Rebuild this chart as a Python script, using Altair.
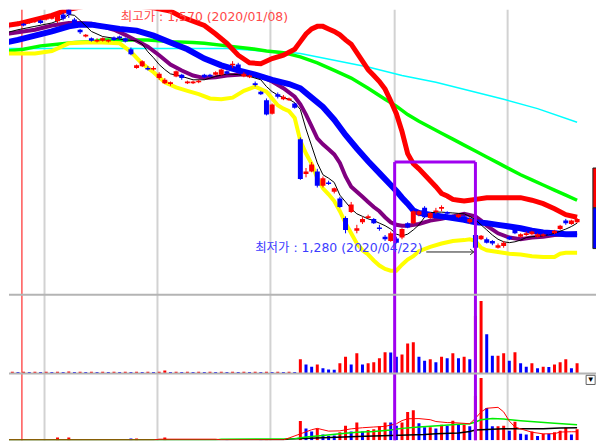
import altair as alt
import numpy as np
import pandas as pd

# ---------------- data (trading-day index: 0 = 2020/01/08) ----------------
DAYS = list(range(-12, 91))
OPEN = [1544, 1546, 1547, 1548, 1549, 1550, 1552, 1553, 1554, 1555, 1552, 1560,
        1569, 1554, 1542, 1534, 1532, 1528, 1529, 1528, 1533, 1534, 1532, 1519,
        1497, 1499, 1497, 1495, 1485, 1479, 1478, 1487, 1489, 1479, 1479, 1480,
        1489, 1489, 1489, 1489, 1493, 1500, 1501, 1487, 1486, 1479, 1469, 1459,
        1443, 1466, 1460, 1459, 1455, 1413, 1372, 1375, 1375, 1358, 1362, 1351,
        1343, 1320, 1327, 1305, 1315, 1320, 1319, 1309, 1298, 1293, 1296, 1297,
        1314, 1314, 1324, 1332, 1320, 1327, 1331, 1327, 1322, 1321, 1322, 1315,
        1300, 1295, 1295, 1293, 1285, 1287, 1298, 1308, 1298, 1300, 1301, 1298,
        1299, 1304, 1302, 1307, 1317, 1313, 1315]
CLOSE = [1547, 1543, 1549, 1550, 1547, 1553, 1554, 1550, 1556, 1559, 1561, 1555,
         1560, 1547, 1539, 1536, 1529, 1530, 1532, 1530, 1530, 1532, 1528, 1513,
         1500, 1505, 1495, 1497, 1490, 1483, 1480, 1493, 1485, 1481, 1481, 1482,
         1486, 1487, 1492, 1495, 1490, 1502, 1497, 1490, 1488, 1477, 1466, 1442,
         1454, 1463, 1463, 1461, 1450, 1366, 1375, 1383, 1358, 1367, 1360, 1355,
         1333, 1306, 1336, 1308, 1319, 1322, 1314, 1307, 1295, 1302, 1291, 1307,
         1309, 1328, 1328, 1321, 1326, 1329, 1333, 1325, 1319, 1324, 1319, 1319,
         1285, 1299, 1291, 1290, 1288, 1291, 1295, 1302, 1301, 1302, 1304, 1301,
         1301, 1301, 1305, 1311, 1314, 1317, 1319]
HIGH = [1548, 1547, 1550, 1552, 1550, 1554, 1555, 1554, 1557, 1560, 1562, 1562,
        1570, 1556, 1543, 1537, 1533, 1532, 1533, 1531, 1534, 1535, 1533, 1521,
        1501, 1506, 1499, 1499, 1492, 1485, 1481, 1494, 1490, 1482, 1482, 1483,
        1490, 1490, 1493, 1496, 1494, 1505, 1503, 1492, 1489, 1481, 1470, 1461,
        1455, 1468, 1465, 1462, 1456, 1415, 1379, 1386, 1378, 1369, 1364, 1356,
        1345, 1322, 1339, 1312, 1321, 1324, 1320, 1312, 1300, 1304, 1298, 1308,
        1315, 1329, 1329, 1334, 1327, 1332, 1335, 1328, 1324, 1325, 1324, 1321,
        1301, 1300, 1297, 1294, 1290, 1293, 1299, 1310, 1302, 1304, 1305, 1302,
        1302, 1305, 1306, 1312, 1319, 1318, 1320]
LOW = [1543, 1542, 1546, 1547, 1546, 1549, 1550, 1549, 1553, 1554, 1550, 1553,
       1556, 1546, 1537, 1533, 1528, 1527, 1528, 1527, 1529, 1530, 1527, 1512,
       1496, 1498, 1494, 1494, 1483, 1478, 1476, 1486, 1483, 1478, 1478, 1479,
       1485, 1486, 1488, 1488, 1489, 1497, 1495, 1486, 1485, 1475, 1465, 1441,
       1442, 1461, 1459, 1458, 1449, 1365, 1368, 1374, 1356, 1356, 1359, 1349,
       1332, 1302, 1326, 1302, 1313, 1319, 1313, 1305, 1293, 1292, 1290, 1295,
       1308, 1313, 1322, 1320, 1319, 1325, 1328, 1324, 1318, 1320, 1318, 1313,
       1280, 1294, 1290, 1288, 1284, 1285, 1294, 1301, 1297, 1299, 1300, 1297,
       1298, 1300, 1301, 1306, 1312, 1312, 1314]

# volume (middle pane) and second volume pane (bottom)
VOL = [17, 14, 18, 15, 17, 14, 17, 15, 18, 14, 17, 15,
       19, 14, 17, 15, 18, 14, 17, 15, 17, 14, 18, 15,
       17, 14, 17, 15, 17, 30, 14, 17, 15, 18, 14, 17,
       15, 17, 14, 18, 15, 17, 14, 17, 15, 18, 14, 17,
       15, 17, 14, 18, 15,
       143, 90, 67, 90, 53, 40, 38, 103, 167, 90,
       203, 90, 103, 113, 153, 213, 210, 167, 190, 300,
       313, 167, 127, 143, 113, 167, 153, 203, 153, 167,
       143, 580, 727, 393, 177, 178, 203, 127, 213, 103,
       67, 103, 53, 67, 65, 90, 113, 143, 53, 103]
VOL2 = [0, 0, 0, 0, 0, 0, 0, 0, 0, 0, 30, 0,
        30, 0, 0, 0, 0, 0, 0, 0, 0, 0, 0, 20,
        20, 0, 0, 0, 0, 30, 0, 0, 0, 0, 0, 0,
        0, 0, 0, 0, 15, 0, 0, 0, 0, 0, 15, 15,
        0, 0, 0, 0, 0,
        210, 130, 97, 130, 63, 47, 53, 87, 160, 97,
        193, 97, 113, 120, 153, 193, 193, 160, 193, 310,
        327, 187, 143, 143, 130, 170, 160, 213, 170, 170,
        153, 487, 680, 353, 153, 153, 160, 103, 203, 70,
        63, 97, 47, 70, 70, 87, 103, 137, 63, 120]

# price overlays
BB_UP_DAYS = [-12, -9, -6, -3, 0, 3, 6, 9, 12, 15, 18, 20, 22, 24, 26, 28, 30, 32, 34, 36, 38, 40,
              41, 42, 43, 44, 45, 46, 47, 48, 49, 50, 51, 52, 53, 54, 55, 56, 57, 58, 59, 60,
              61, 62, 63, 64, 65, 66, 67, 68, 69, 70, 71, 72, 74, 76, 78, 80, 82, 84, 86, 88, 90]
BB_UP = [1546, 1549, 1554, 1559, 1566, 1570, 1572, 1573, 1570, 1568, 1564, 1557, 1552, 1547, 1537,
         1526, 1512, 1503, 1502, 1508, 1512, 1519,
         1528, 1537, 1543, 1546, 1546, 1543, 1540, 1536, 1530, 1525, 1515, 1505, 1495, 1488, 1481,
         1472, 1458, 1443, 1422, 1396, 1384, 1378, 1371, 1364, 1357, 1349, 1346, 1342, 1341, 1340,
         1341, 1342, 1344, 1344, 1344, 1344, 1341, 1337, 1331, 1324, 1321]
BB_LO_DAYS = [-12, -6, -3, 0, 3, 6, 9, 11, 13, 15, 17, 19, 21, 23, 25, 27, 29, 31, 33, 35, 37, 38,
              39, 40, 41, 42, 43, 44, 45, 46, 47, 48, 49, 50, 51, 52, 53, 54, 55, 56, 57, 58, 59,
              60, 61, 62, 64, 66, 68, 70, 71, 72, 73, 74, 76, 78, 80, 82, 84, 86, 87, 88, 90]
BB_LO = [1514, 1514, 1517, 1526, 1527, 1527, 1526, 1516, 1502, 1492, 1480, 1474, 1470, 1466, 1461,
         1460, 1462, 1470, 1475, 1469, 1453, 1449, 1446, 1438,
         1411, 1396, 1384, 1367, 1355, 1348, 1340, 1328, 1314, 1302, 1290, 1282, 1277, 1270, 1264,
         1260, 1258, 1258, 1265, 1271, 1275, 1281, 1286, 1290, 1293, 1294, 1295, 1293, 1285, 1282,
         1280, 1278, 1277, 1275, 1274, 1274, 1278, 1279, 1279]
MA20_DAYS = [-12, -9, -6, -3, 0, 2, 4, 6, 9, 12, 15, 18, 21, 24, 27, 30, 33, 36, 39, 41, 43, 45,
             47, 49, 51, 53, 55, 57, 58, 59, 60, 61, 62, 64, 66, 68, 70, 72, 74, 76, 78, 80, 82,
             84, 86, 88, 90]
MA20 = [1526, 1530, 1535, 1540, 1546, 1548, 1548, 1546, 1543, 1541, 1535, 1527, 1519, 1508, 1500,
        1494, 1489, 1483, 1478, 1473, 1462, 1451, 1436, 1418, 1402, 1387, 1373, 1359, 1352, 1344,
        1337, 1329, 1326, 1324, 1322, 1320, 1318, 1315, 1314, 1312, 1310, 1308, 1305, 1303, 1302,
        1301, 1301]
MA10_DAYS = [-12, -9, -6, -3, 0, 2, 4, 6, 8, 10, 12, 14, 16, 18, 20, 22, 24, 26, 28, 30, 32, 34,
             36, 38, 40, 41, 42, 43, 44, 45, 46, 47, 48, 49, 50, 51, 52, 53, 54, 55, 56, 57, 58,
             59, 60, 62, 64, 66, 68, 70, 72, 73, 74, 76, 78, 80, 82, 84, 86, 88, 90]
MA10 = [1536, 1539, 1542, 1547, 1550, 1550, 1549, 1546, 1542, 1536, 1529, 1522, 1512, 1501, 1494,
        1488, 1485, 1486, 1488, 1489, 1490, 1487, 1481, 1473, 1463,
        1454, 1442, 1428, 1414, 1407, 1401, 1395, 1385, 1369, 1357, 1351, 1345, 1339, 1333, 1328,
        1321, 1315, 1312, 1311, 1311, 1313, 1317, 1319, 1322, 1325, 1322, 1317, 1311,
        1302, 1297, 1295, 1297, 1298, 1300, 1301, 1302]
MA5_DAYS = [-12, -9, -6, -3, -1, 0, 1, 2, 4, 6, 8, 10, 12, 13, 14, 15, 16, 17, 18, 20, 22, 24,
            26, 28, 30, 32, 34, 35, 36, 37, 38, 39, 40, 41, 42, 43, 44, 45, 46, 47, 48, 49, 50,
            51, 52, 53, 54, 55, 56, 57, 58, 59, 60, 61, 62, 63, 64, 65, 66, 68, 70, 71, 72, 73,
            74, 75, 76, 77, 78, 79, 80, 81, 82, 84, 86, 88, 89, 90]
MA5 = [1537, 1542, 1546, 1550, 1555, 1560, 1559, 1553, 1540, 1534, 1532, 1530, 1529,
       1525, 1516, 1509, 1501, 1495, 1490, 1487, 1483, 1483, 1487, 1490, 1489, 1487, 1483,
       1475, 1469, 1465, 1462, 1460, 1456, 1448, 1425, 1405, 1385, 1371, 1367, 1362, 1347,
       1339, 1331, 1325, 1322, 1319, 1317, 1314, 1311, 1307, 1301, 1299, 1301, 1306, 1312,
       1321, 1326, 1327, 1327, 1326, 1325, 1322, 1318, 1312, 1306, 1300, 1295, 1292, 1291,
       1292, 1294, 1297, 1298, 1299, 1302, 1307, 1310, 1314]
MA60_DAYS = [-12, -8, -5, -2, 1, 4, 6, 10, 14, 18, 22, 24, 28, 32, 35, 38, 41, 44, 47, 50, 53, 56,
             58, 60, 62, 64, 66, 68, 70, 72, 74, 76, 78, 80, 82, 84, 86, 88, 90]
MA60 = [1516, 1519, 1523, 1525, 1527, 1528, 1530, 1530, 1530, 1528, 1527, 1526, 1523, 1520, 1517,
        1515, 1510, 1503, 1494, 1485, 1473, 1460, 1452, 1442, 1434, 1427, 1420, 1413, 1406, 1399,
        1392, 1385, 1378, 1371, 1365, 1359, 1353, 1347, 1341]
MA120_DAYS = [-12, 0, 10, 20, 28, 34, 38, 41, 47, 53, 59, 65, 71, 77, 83, 90]
MA120 = [1520, 1520, 1520, 1520, 1520, 1517, 1516, 1514, 1506, 1498, 1488, 1480, 1470, 1460, 1449,
         1433]

# volume moving averages (bottom pane)
VMA5_DAYS = [-12, 15, 16, 26, 27, 38, 39, 41, 43, 44, 45, 46, 48, 50, 52, 54, 56, 58, 59, 60, 62,
             64, 65, 67, 68, 70, 71, 72, 73, 74, 76, 77, 78, 79, 80, 82, 84, 86, 87, 89, 90]
VMA5 = [3, 3, 12, 12, 5, 5, 25, 70, 115, 130, 115, 100, 103, 125, 137, 145, 152, 180, 215, 235,
        237, 225, 205, 193, 193, 185, 180, 240, 310, 350, 360, 310, 210, 145, 125, 88, 70, 72, 90,
        93, 93]
VMA20_DAYS = [-12, 26, 27, 40, 42, 45, 48, 51, 54, 57, 59, 62, 64, 66, 69, 71, 72, 73, 75, 77, 80,
              83, 86, 90]
VMA20 = [2, 2, 12, 18, 37, 53, 70, 87, 97, 112, 130, 145, 153, 162, 175, 180, 200, 225, 238, 232,
         214, 200, 187, 170]
VMA60_DAYS = [-12, 38, 39, 45, 51, 57, 63, 65, 69, 71, 72, 77, 84, 87, 90]
VMA60 = [2, 6, 13, 27, 40, 53, 63, 70, 80, 95, 113, 127, 127, 133, 137]

MONTH_STARTS = [-4, 16, 36, 58, 78]
GRID_SHIFT = -0.3
MARK_DAY = -8
BOX_LEFT, BOX_RIGHT, BOX_TOP = 57.7, 72.0, 1386
HIGH_LABEL = "최고가 : 1,570 (2020/01/08)"
LOW_LABEL = "최저가 : 1,280 (2020/04/22)"
HIGH_LABEL_DAY, HIGH_LABEL_PRICE = 9.2, 1557
LOW_LABEL_DAY, LOW_LABEL_PRICE = 33.0, 1285
ARROW_FROM, ARROW_TO, ARROW_PRICE = 63.3, 71.7, 1280
SIDE_X = 92.8
SIDE_RED = (1379, 1332)
SIDE_BLUE = (1332, 1284)
BTN_X = (91.6, 93.2)
BTN_Y = (710, 610)

# ---------------- layout ----------------
W = 589
H_TOP, H_MID, H_BOT = 286, 79, 67
X_DOMAIN = [-10.59, 93.35]
P_DOMAIN = [1229.55, 1565.6]
V_DOMAIN = [0, 790]
V2_DOMAIN = [0, 730]
RED, BLUE = "#ff0000", "#0000ff"
VIOLET = "#a000f0"
LABEL_FONT = "DejaVu Sans, Noto Sans CJK KR"

xs = alt.Scale(domain=X_DOMAIN, nice=False, zero=False, padding=0)
ps = alt.Scale(domain=P_DOMAIN, nice=False, zero=False, padding=0)
vs = alt.Scale(domain=V_DOMAIN, nice=False, padding=0)
v2s = alt.Scale(domain=V2_DOMAIN, nice=False, padding=0)
dir_color = alt.Color("dir:N", scale=alt.Scale(domain=["up", "down"], range=[RED, BLUE]), legend=None)


def X(field="day"):
    return alt.X(f"{field}:Q", scale=xs, axis=None)


def Y(field, scale):
    return alt.Y(f"{field}:Q", scale=scale, axis=None)


candles = pd.DataFrame({"day": DAYS, "open": OPEN, "high": HIGH, "low": LOW, "close": CLOSE})
candles["dir"] = np.where(candles["close"] >= candles["open"], "up", "down")

vol = pd.DataFrame({"day": DAYS, "vol": VOL, "vol2": VOL2})
vol["dir"] = np.where(vol["vol"].diff().fillna(1) >= 0, "up", "down")

grid_df = pd.DataFrame({"pos": [d + GRID_SHIFT for d in MONTH_STARTS]})
mark_df = pd.DataFrame({"pos": [MARK_DAY + GRID_SHIFT]})
box_v = pd.DataFrame({"pos": [BOX_LEFT, BOX_RIGHT], "top": [BOX_TOP, BOX_TOP],
                      "bot": [P_DOMAIN[0], P_DOMAIN[0]]})
box_h = pd.DataFrame({"a": [BOX_LEFT], "b": [BOX_RIGHT], "top": [BOX_TOP]})


def grid_layers():
    g = alt.Chart(grid_df).mark_rule(color="#d2d2d2", strokeWidth=2).encode(x=X("pos"))
    m = alt.Chart(mark_df).mark_rule(color=RED, strokeWidth=1).encode(x=X("pos"))
    return [g, m]


def price_line(days, vals, color, width):
    d = pd.DataFrame({"day": days, "price": vals})
    return alt.Chart(d).mark_line(color=color, strokeWidth=width, clip=True).encode(
        x=X(), y=Y("price", ps))


def vol_line(days, vals, color, width):
    d = pd.DataFrame({"day": days, "v": vals})
    return alt.Chart(d).mark_line(color=color, strokeWidth=width, clip=True).encode(
        x=X(), y=Y("v", v2s))


# ---------------- top pane ----------------
wicks = alt.Chart(candles).mark_rule(strokeWidth=1, clip=True).encode(
    x=X(), y=Y("low", ps), y2="high:Q", color=dir_color)
bodies = alt.Chart(candles).mark_bar(size=5, clip=True).encode(
    x=X(), y=Y("open", ps), y2="close:Q", color=dir_color)

box_sides = alt.Chart(box_v).mark_rule(color=VIOLET, strokeWidth=3).encode(
    x=X("pos"), y=Y("top", ps), y2="bot:Q")
box_top = alt.Chart(box_h).mark_rule(color=VIOLET, strokeWidth=3).encode(
    x=X("a"), x2="b:Q", y=Y("top", ps))

labels = pd.DataFrame({"day": [HIGH_LABEL_DAY], "price": [HIGH_LABEL_PRICE], "t": [HIGH_LABEL]})
high_text = alt.Chart(labels).mark_text(
    align="left", baseline="middle", font=LABEL_FONT, fontSize=12.5, color="#ff4848",
    clip=True).encode(x=X(), y=Y("price", ps), text="t:N")
low_df = pd.DataFrame({"day": [LOW_LABEL_DAY], "price": [LOW_LABEL_PRICE], "t": [LOW_LABEL]})
low_text = alt.Chart(low_df).mark_text(
    align="left", baseline="middle", font=LABEL_FONT, fontSize=12.5, color="#3c3cff",
    clip=True).encode(x=X(), y=Y("price", ps), text="t:N")
arrow_df = pd.DataFrame({"a": [ARROW_FROM], "b": [ARROW_TO], "price": [ARROW_PRICE]})
arrow = alt.Chart(arrow_df).mark_rule(color="#202020", strokeWidth=1).encode(
    x=X("a"), x2="b:Q", y=Y("price", ps))
head_df = pd.DataFrame({"day": [ARROW_TO], "price": [ARROW_PRICE]})
head = alt.Chart(head_df).mark_point(
    shape="M-1,-0.8L0,0L-1,0.8", filled=False, size=50, color="#202020", strokeWidth=1,
    opacity=1).encode(x=X(), y=Y("price", ps))

side_df = pd.DataFrame({"a": [SIDE_X, SIDE_X], "b": [95, 95],
                        "y1": [SIDE_RED[0], SIDE_BLUE[0]], "y2": [SIDE_RED[1], SIDE_BLUE[1]],
                        "dir": ["up", "down"]})
side = alt.Chart(side_df).mark_rect(clip=True, stroke="#202020", strokeWidth=1).encode(
    x=X("a"), x2="b:Q", y=Y("y1", ps), y2="y2:Q", color=dir_color)

top = alt.layer(
    *grid_layers(),
    price_line(MA120_DAYS, MA120, "#00ffff", 1.5),
    price_line(MA60_DAYS, MA60, "#00ff00", 3.5),
    price_line(BB_LO_DAYS, BB_LO, "#ffff00", 4),
    price_line(BB_UP_DAYS, BB_UP, RED, 5),
    price_line(MA10_DAYS, MA10, "#800080", 4),
    price_line(MA20_DAYS, MA20, BLUE, 6),
    price_line(MA5_DAYS, MA5, "#000000", 1),
    wicks, bodies,
    box_sides, box_top,
    high_text, low_text, arrow, head, side,
).properties(width=W, height=H_TOP)

# ---------------- middle pane ----------------
sep_mid = alt.Chart(pd.DataFrame({"v": [V_DOMAIN[1]]})).mark_rule(
    color="#b4b4b4", strokeWidth=2).encode(y=Y("v", vs))
box_mid = alt.Chart(box_v).mark_rule(color=VIOLET, strokeWidth=3).encode(x=X("pos"))
vol_bars = alt.Chart(vol).mark_bar(size=3, clip=True).encode(
    x=X(), y=Y("vol", vs), color=dir_color)
mid = alt.layer(*grid_layers(), vol_bars, box_mid, sep_mid).properties(width=W, height=H_MID)

# ---------------- bottom pane ----------------
sep_bot = alt.Chart(pd.DataFrame({"v": [V2_DOMAIN[1]]})).mark_rule(
    color="#b4b4b4", strokeWidth=2).encode(y=Y("v", v2s))
vol2_bars = alt.Chart(vol).mark_bar(size=3, clip=True).encode(
    x=X(), y=Y("vol2", v2s), color=dir_color)
btn_df = pd.DataFrame({"a": [BTN_X[0]], "b": [BTN_X[1]], "y1": [BTN_Y[0]], "y2": [BTN_Y[1]],
                       "cx": [(BTN_X[0] + BTN_X[1]) / 2], "cy": [(BTN_Y[0] + BTN_Y[1]) / 2],
                       "t": ["▼"]})
btn = alt.Chart(btn_df).mark_rect(fill="white", stroke="#606060", strokeWidth=1).encode(
    x=X("a"), x2="b:Q", y=Y("y1", v2s), y2="y2:Q")
btn_icon = alt.Chart(btn_df).mark_text(fontSize=8, color="black", baseline="middle").encode(
    x=X("cx"), y=Y("cy", v2s), text="t:N")
bot = alt.layer(
    *grid_layers(), vol2_bars,
    vol_line(VMA60_DAYS, VMA60, "#000000", 1.5),
    vol_line(VMA20_DAYS, VMA20, "#00ee00", 1.5),
    vol_line(VMA5_DAYS, VMA5, RED, 1),
    box_mid, sep_bot, btn, btn_icon,
).properties(width=W, height=H_BOT)

chart = alt.vconcat(top, mid, bot, spacing=0).properties(
    padding=0, bounds="flush", background="white").configure_view(strokeWidth=0)

chart.save("out.html", embed_options={"renderer": "svg", "actions": False})
